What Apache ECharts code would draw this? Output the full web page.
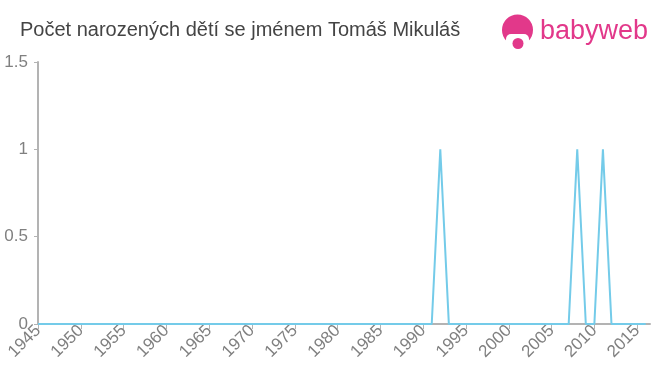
<!DOCTYPE html>
<html><head><meta charset="utf-8">
<script src="https://cdn.jsdelivr.net/npm/echarts@6/dist/echarts.min.js"></script>
<style>html,body{margin:0;padding:0;background:#fff}#c{width:660px;height:375px}</style>
</head><body><div id="c"></div>
<script>
var titleText = 'Počet narozených dětí se jménem Tomáš Mikuláš';
var years = [1945,1946,1947,1948,1949,1950,1951,1952,1953,1954,
  1955,1956,1957,1958,1959,1960,1961,1962,1963,1964,
  1965,1966,1967,1968,1969,1970,1971,1972,1973,1974,
  1975,1976,1977,1978,1979,1980,1981,1982,1983,1984,
  1985,1986,1987,1988,1989,1990,1991,1992,1993,1994,
  1995,1996,1997,1998,1999,2000,2001,2002,2003,2004,
  2005,2006,2007,2008,2009,2010,2011,2012,2013,2014,
  2015,2016];
var counts = [0,0,0,0,0,0,0,0,0,0,
  0,0,0,0,0,0,0,0,0,0,
  0,0,0,0,0,0,0,0,0,0,
  0,0,0,0,0,0,0,0,0,0,
  0,0,0,0,0,0,0,1,0,0,
  0,0,0,0,0,0,0,0,0,0,
  0,0,0,1,0,0,1,0,0,0,
  0,0];
var xTicks = {min: 1945, max: 2016.5, interval: 5};
var yTicks = {min: 0, max: 1.5, interval: 0.5};

var chart = echarts.init(document.getElementById('c'), null, {renderer: 'canvas'});
var font = '"Liberation Sans", Arial, sans-serif';
var pink = '#e2388a';
var labelColor = '#808080';
chart.setOption({
  animation: false,
  title: {text: titleText, left: 15, top: 20, padding: [0, 5],
    textStyle: {fontFamily: font, fontSize: 20, fontWeight: 'normal', color: '#444'}},
  grid: {left: 38, right: 10, top: 62, bottom: 51, containLabel: false},
  xAxis: {type: 'value', min: xTicks.min, max: xTicks.max, interval: xTicks.interval,
    axisLine: {lineStyle: {color: '#b3b3b3', width: 2}},
    axisTick: {show: true, length: 5, lineStyle: {color: '#b3b3b3'}},
    splitLine: {show: false},
    axisLabel: {rotate: 45, color: labelColor, fontFamily: font, fontSize: 17, margin: 4,
      showMaxLabel: false,
      formatter: function(v){ return v % 5 === 0 ? String(v) : ''; }}},
  yAxis: {type: 'value', min: yTicks.min, max: yTicks.max, interval: yTicks.interval,
    axisLine: {show: true, lineStyle: {color: '#b3b3b3', width: 2}},
    axisTick: {show: true, length: 4, lineStyle: {color: '#b3b3b3'}},
    splitLine: {show: false},
    axisLabel: {color: labelColor, fontFamily: font, fontSize: 17, margin: 10}},
  series: [{type: 'line', data: years.map(function(y,i){return [y, counts[i]];}),
    showSymbol: false, symbol: 'none', lineStyle: {color: '#74cbe9', width: 2}}],
  graphic: [
    {type: 'circle', shape: {cx: 517.5, cy: 30, r: 15.5}, style: {fill: pink}},
    {type: 'rect', shape: {x: 506, y: 34, width: 23, height: 14, r: [5, 5, 0, 0]}, style: {fill: '#fff'}},
    {type: 'circle', shape: {cx: 518, cy: 43.5, r: 5.5}, style: {fill: pink}},
    {type: 'text', x: 540, y: 32, style: {text: 'babyweb', fill: pink,
      verticalAlign: 'middle', align: 'left',
      font: '27px "Liberation Sans", Arial, sans-serif'}}
  ]
});
</script></body></html>
